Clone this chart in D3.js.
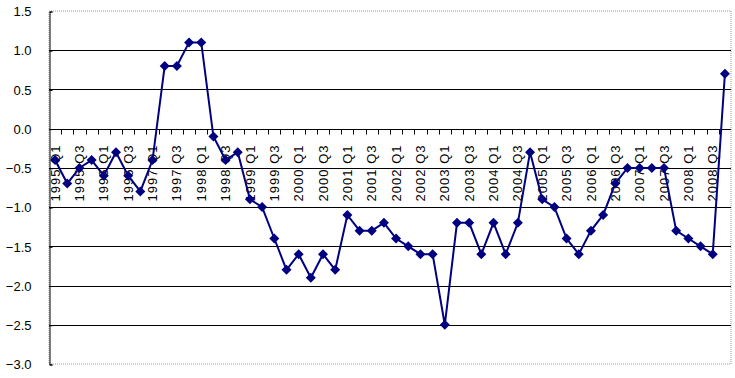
<!DOCTYPE html>
<html>
<head>
<meta charset="utf-8">
<script src="https://cdn.jsdelivr.net/npm/d3@7"></script>
<style>
  body { margin: 0; background: #fff; }
  text { font-family: "Liberation Sans", Arial, sans-serif; }
</style>
</head>
<body>
<div id="chart"></div>
<script>
// quarterly values, 1995 Q1 .. 2008 Q4
const years = d3.range(1995, 2009);
const quarters = ['Q1', 'Q2', 'Q3', 'Q4'];
const values = [
  -0.4, -0.7, -0.5, -0.4,
  -0.6, -0.3, -0.6, -0.8,
  -0.4, 0.8, 0.8, 1.1,
  1.1, -0.1, -0.4, -0.3,
  -0.9, -1.0, -1.4, -1.8,
  -1.6, -1.9, -1.6, -1.8,
  -1.1, -1.3, -1.3, -1.2,
  -1.4, -1.5, -1.6, -1.6,
  -2.5, -1.2, -1.2, -1.6,
  -1.2, -1.6, -1.2, -0.3,
  -0.9, -1.0, -1.4, -1.6,
  -1.3, -1.1, -0.7, -0.5,
  -0.5, -0.5, -0.5, -1.3,
  -1.4, -1.5, -1.6, 0.7
];
const yTicks = [1.5, 1.0, 0.5, 0.0, -0.5, -1.0, -1.5, -2.0, -2.5, -3.0];

const categories = [];
years.forEach(y => quarters.forEach(q => categories.push(y + ' ' + q)));
const data = categories.map((c, i) => ({ label: c, value: values[i], q: c.slice(-2) }));

const dimensions = {
  width: 735,
  height: 378,
  margin: { top: 11, bottom: 14, left: 49, right: 4 }
};

const svg = d3.select('#chart').append('svg')
  .attr('width', dimensions.width)
  .attr('height', dimensions.height);

const x0 = dimensions.margin.left;
const x1 = dimensions.width - dimensions.margin.right;
const y0 = dimensions.margin.top;
const y1 = dimensions.height - dimensions.margin.bottom;

const xScale = d3.scaleBand().domain(categories).range([x0, x1]);
const yScale = d3.scaleLinear().domain([-3, 1.5]).range([y1, y0]);

// plot border (dotted gray)
svg.append('rect')
  .attr('x', x0).attr('y', y0)
  .attr('width', x1 - x0).attr('height', y1 - y0)
  .attr('fill', 'none').attr('stroke', '#999').attr('stroke-dasharray', '1,1');

// gridlines
svg.append('g').selectAll('line')
  .data(yTicks.filter(t => t !== 1.5 && t !== -3.0 && t !== 0))
  .enter().append('line')
  .attr('x1', x0).attr('x2', x1)
  .attr('y1', d => Math.round(yScale(d)) + 0.5)
  .attr('y2', d => Math.round(yScale(d)) + 0.5)
  .attr('stroke', '#000');

// y axis
const yAxis = d3.axisLeft(yScale).tickValues(yTicks).tickSize(-3).tickPadding(18)
  .tickFormat(d => d3.format('.1f')(d).replace('-', '\u2212'));
const yg = svg.append('g')
  .attr('transform', `translate(${x0 + 0.5},0.5)`)
  .call(yAxis);
yg.select('.domain').attr('stroke', '#000');
yg.selectAll('.tick line').attr('stroke', '#000');
yg.selectAll('text').attr('font-size', '13px').attr('fill', '#000')
  .attr('font-family', '"Liberation Sans", Arial, sans-serif');

// x axis at zero, ticks at category boundaries
const zeroY = Math.round(yScale(0)) + 0.5;
svg.append('line')
  .attr('x1', x0).attr('x2', x1).attr('y1', zeroY).attr('y2', zeroY)
  .attr('stroke', '#000');
svg.append('g').selectAll('line')
  .data(categories.slice(1))
  .enter().append('line')
  .attr('x1', d => Math.round(xScale(d)) + 0.5)
  .attr('x2', d => Math.round(xScale(d)) + 0.5)
  .attr('y1', zeroY).attr('y2', zeroY + 5)
  .attr('stroke', '#000');

// x labels, every other quarter, rotated
svg.append('g').selectAll('text')
  .data(data.filter((d, i) => i % 2 === 0))
  .enter().append('text')
  .attr('transform', d => `translate(${xScale(d.label) + xScale.bandwidth() / 2},${zeroY + 15}) rotate(-90)`)
  .attr('text-anchor', 'end')
  .attr('dy', '0.35em')
  .attr('font-size', '13px')
  .attr('letter-spacing', '1px')
  .attr('fill', '#000')
  .text(d => d.label);

// series line
const line = d3.line()
  .x(d => xScale(d.label) + xScale.bandwidth() / 2)
  .y(d => yScale(d.value));
svg.append('path')
  .datum(data)
  .attr('d', line)
  .attr('fill', 'none')
  .attr('stroke', '#000080')
  .attr('stroke-width', 2);

// diamond markers
svg.append('g').selectAll('path')
  .data(data)
  .enter().append('path')
  .attr('transform', d => `translate(${xScale(d.label) + xScale.bandwidth() / 2},${yScale(d.value)})`)
  .attr('d', 'M0,-5L5,0L0,5L-5,0Z')
  .attr('fill', '#000080');
</script>
</body>
</html>
